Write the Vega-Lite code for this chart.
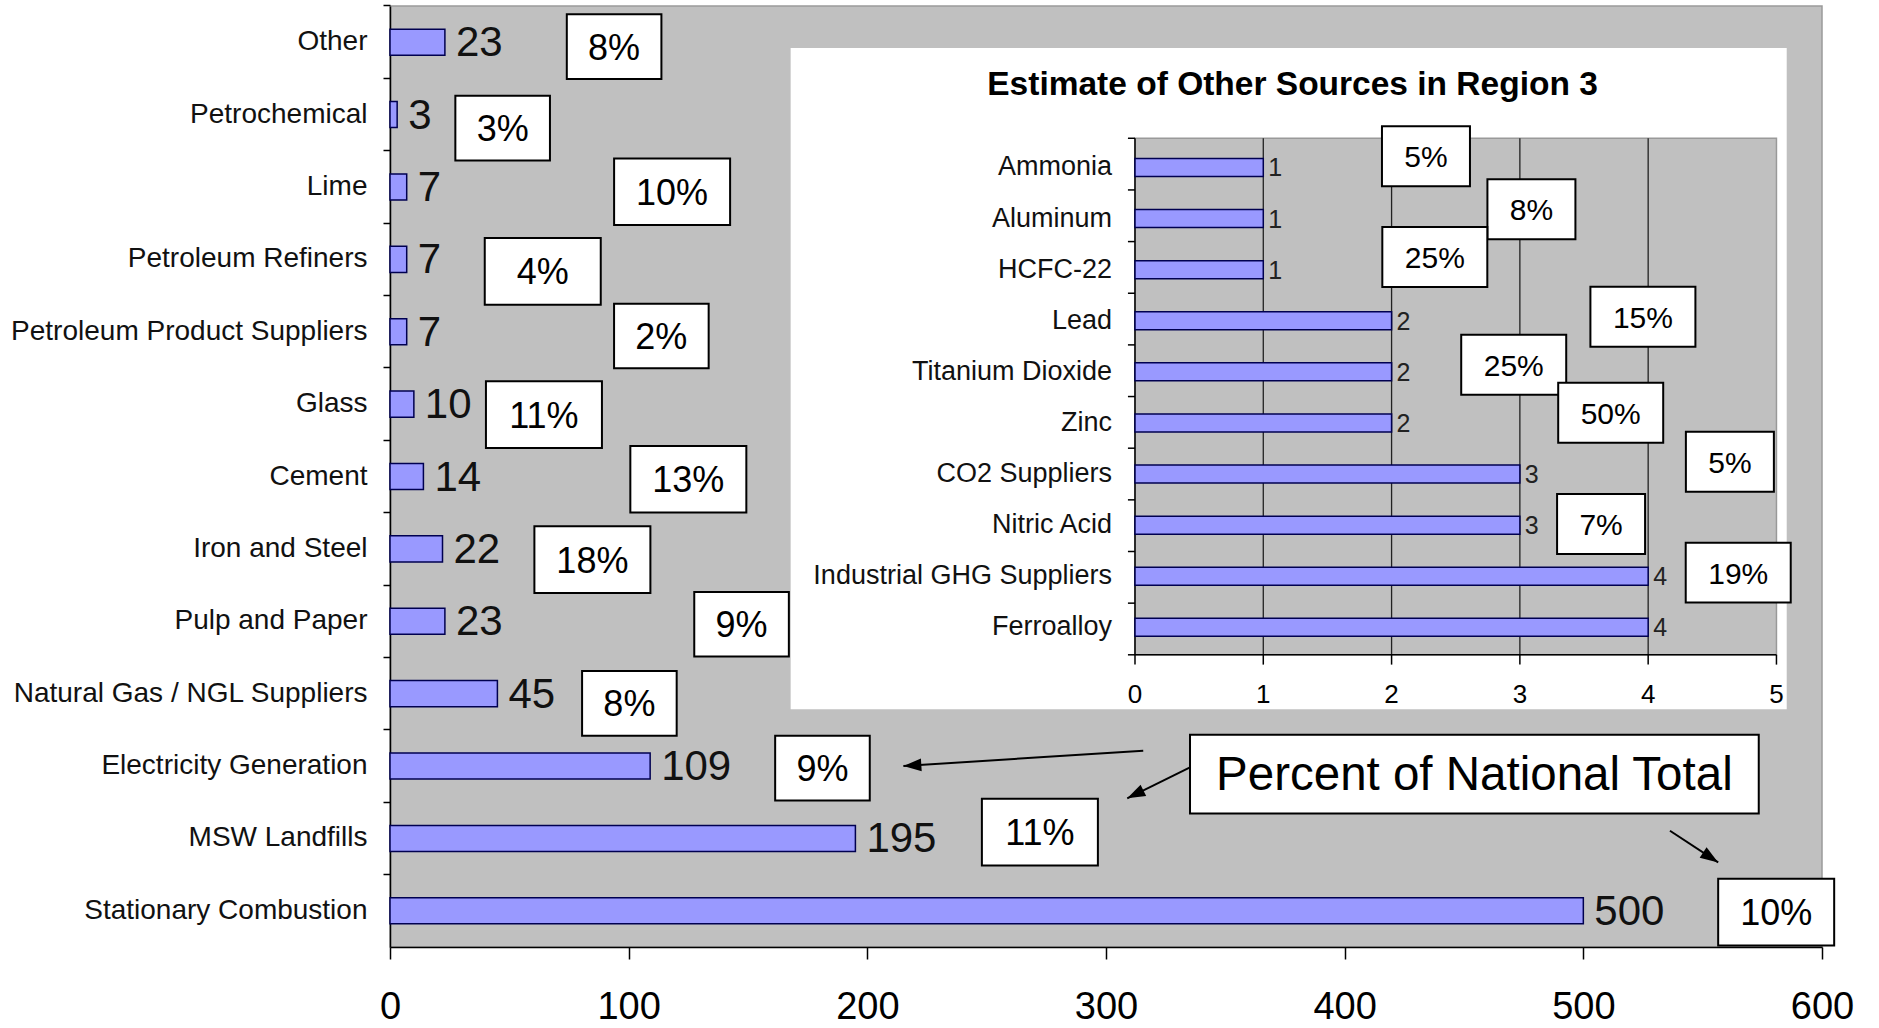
{
  "$schema": "https://vega.github.io/schema/vega-lite/v6.json",
  "width": 1432,
  "height": 941,
  "autosize": {"type": "none"},
  "padding": {"left": 390, "top": 6, "right": 57, "bottom": 81},
  "background": "#ffffff",
  "config": {
    "view": {"fill": "#c0c0c0", "stroke": "#9a9a9a", "strokeWidth": 1.5},
    "font": "Liberation Sans"
  },
  "datasets": {
    "main": [
      {"cat": "Other", "v": 23},
      {"cat": "Petrochemical", "v": 3},
      {"cat": "Lime", "v": 7},
      {"cat": "Petroleum Refiners", "v": 7},
      {"cat": "Petroleum Product Suppliers", "v": 7},
      {"cat": "Glass", "v": 10},
      {"cat": "Cement", "v": 14},
      {"cat": "Iron and Steel", "v": 22},
      {"cat": "Pulp and Paper", "v": 23},
      {"cat": "Natural Gas / NGL Suppliers", "v": 45},
      {"cat": "Electricity Generation", "v": 109},
      {"cat": "MSW Landfills", "v": 195},
      {"cat": "Stationary Combustion", "v": 500}
    ],
    "mainPct": [
      {"p": "8%", "x": 93.9, "y": 0.562},
      {"p": "3%", "x": 47.2, "y": 1.688},
      {"p": "10%", "x": 118.2, "y": 2.566},
      {"p": "4%", "x": 64.0, "y": 3.665},
      {"p": "2%", "x": 113.7, "y": 4.559},
      {"p": "11%", "x": 64.5, "y": 5.644},
      {"p": "13%", "x": 125.0, "y": 6.538},
      {"p": "18%", "x": 84.8, "y": 7.647},
      {"p": "9%", "x": 147.3, "y": 8.541},
      {"p": "8%", "x": 100.3, "y": 9.633},
      {"p": "9%", "x": 181.2, "y": 10.528},
      {"p": "11%", "x": 272.3, "y": 11.412},
      {"p": "10%", "x": 580.8, "y": 12.517}
    ],
    "arrows": [
      {"x": 315.6, "y": 10.289, "x2": 215.1, "y2": 10.5, "a": 176.35},
      {"x": 335.2, "y": 10.518, "x2": 308.9, "y2": 10.946, "a": 153.7},
      {"x": 536.3, "y": 11.394, "x2": 556.5, "y2": 11.831, "a": 33.2}
    ],
    "pnt": [{"label": "Percent of National Total"}],
    "insetTitle": [{"title": "Estimate of Other Sources in Region 3"}],
    "insetTicks": [{"t": 0}, {"t": 1}, {"t": 2}, {"t": 3}, {"t": 4}, {"t": 5}],
    "insetBounds": [{"b": 0}, {"b": 1}, {"b": 2}, {"b": 3}, {"b": 4}, {"b": 5}, {"b": 6}, {"b": 7}, {"b": 8}, {"b": 9}, {"b": 10}],
    "inset": [
      {"cat": "Ammonia", "v": 1},
      {"cat": "Aluminum", "v": 1},
      {"cat": "HCFC-22", "v": 1},
      {"cat": "Lead", "v": 2},
      {"cat": "Titanium Dioxide", "v": 2},
      {"cat": "Zinc", "v": 2},
      {"cat": "CO2 Suppliers", "v": 3},
      {"cat": "Nitric Acid", "v": 3},
      {"cat": "Industrial GHG Suppliers", "v": 4},
      {"cat": "Ferroalloy", "v": 4}
    ],
    "insetPct": [
      {"p": "5%", "x": 2.268, "y": 0.349},
      {"p": "8%", "x": 3.09, "y": 1.373},
      {"p": "25%", "x": 2.337, "y": 2.298},
      {"p": "15%", "x": 3.959, "y": 3.454},
      {"p": "25%", "x": 2.952, "y": 4.385},
      {"p": "50%", "x": 3.708, "y": 5.313},
      {"p": "5%", "x": 4.637, "y": 6.263},
      {"p": "7%", "x": 3.633, "y": 7.469},
      {"p": "19%", "x": 4.702, "y": 8.409}
    ]
  },
  "layer": [
    {
      "data": {"name": "main"},
      "encoding": {
        "y": {
          "field": "cat", "type": "nominal", "sort": null,
          "scale": {"paddingInner": 0.64, "paddingOuter": 0.32, "round": false},
          "axis": {
            "title": null, "labelFont": "Liberation Sans", "labelFontSize": 28, "labelColor": "#111",
            "labelPadding": 16, "tickSize": 7, "tickColor": "#000", "tickWidth": 1.5,
            "domainColor": "#000", "domainWidth": 1.5, "bandPosition": -0.889, "labelLimit": 500, "grid": false
          }
        },
        "x": {
          "field": "v", "type": "quantitative",
          "scale": {"domain": [0, 600], "nice": false, "zero": true},
          "axis": {
            "title": null, "values": [0, 100, 200, 300, 400, 500, 600],
            "labelFont": "Liberation Sans", "labelFontSize": 38, "labelColor": "#000",
            "labelPadding": 29, "tickSize": 12, "tickColor": "#000", "tickWidth": 1.5,
            "domainColor": "#000", "domainWidth": 1.5, "grid": false, "labelFlush": false
          }
        }
      },
      "layer": [
        {"mark": {"type": "bar", "fill": "#9999ff", "stroke": "#000050", "strokeWidth": 1.5}},
        {
          "mark": {"type": "text", "align": "left", "baseline": "middle", "dx": 11, "dy": 1, "font": "Liberation Sans", "fontSize": 42, "fill": "#111"},
          "encoding": {"text": {"field": "v", "type": "quantitative"}}
        }
      ]
    },
    {
      "layer": [
        {
          "data": {"name": "arrows"},
          "mark": {"type": "rule", "stroke": "#000", "strokeWidth": 2},
          "encoding": {
            "x": {"field": "x", "type": "quantitative", "scale": {"domain": [0, 600], "nice": false, "zero": false}, "axis": null},
            "y": {"field": "y", "type": "quantitative", "scale": {"domain": [0, 13], "nice": false, "zero": false, "reverse": true}, "axis": null},
            "x2": {"field": "x2"},
            "y2": {"field": "y2"}
          }
        },
        {
          "data": {"name": "arrows"},
          "mark": {"type": "point", "shape": "M0,0L-2,-0.7L-2,0.7Z", "size": 324, "filled": true, "fill": "#000", "strokeWidth": 0, "opacity": 1},
          "encoding": {
            "x": {"field": "x2", "type": "quantitative", "scale": {"domain": [0, 600], "nice": false, "zero": false}, "axis": null},
            "y": {"field": "y2", "type": "quantitative", "scale": {"domain": [0, 13], "nice": false, "zero": false, "reverse": true}, "axis": null},
            "angle": {"field": "a", "type": "quantitative", "scale": null}
          }
        },
        {
          "data": {"name": "mainPct"},
          "transform": [{"filter": "!(length(datum.p) == 3 || datum.p == '4%')"}],
          "mark": {"type": "point", "shape": "M-1,-0.684H1V0.684H-1Z", "size": 8949, "filled": true, "fill": "#fff", "stroke": "#000", "strokeWidth": 2, "opacity": 1},
          "encoding": {
            "x": {"field": "x", "type": "quantitative", "scale": {"domain": [0, 600], "nice": false, "zero": false}, "axis": null},
            "y": {"field": "y", "type": "quantitative", "scale": {"domain": [0, 13], "nice": false, "zero": false, "reverse": true}, "axis": null}
          }
        },
        {
          "data": {"name": "mainPct"},
          "transform": [{"filter": "length(datum.p) == 3 || datum.p == '4%'"}],
          "mark": {"type": "point", "shape": "M-1,-0.575H1V0.575H-1Z", "size": 13456, "filled": true, "fill": "#fff", "stroke": "#000", "strokeWidth": 2, "opacity": 1},
          "encoding": {
            "x": {"field": "x", "type": "quantitative", "scale": {"domain": [0, 600], "nice": false, "zero": false}, "axis": null},
            "y": {"field": "y", "type": "quantitative", "scale": {"domain": [0, 13], "nice": false, "zero": false, "reverse": true}, "axis": null}
          }
        },
        {
          "data": {"name": "mainPct"},
          "mark": {"type": "text", "align": "center", "baseline": "middle", "dy": 2, "font": "Liberation Sans", "fontSize": 36, "fill": "#000"},
          "encoding": {
            "x": {"field": "x", "type": "quantitative", "scale": {"domain": [0, 600], "nice": false, "zero": false}, "axis": null},
            "y": {"field": "y", "type": "quantitative", "scale": {"domain": [0, 13], "nice": false, "zero": false, "reverse": true}, "axis": null},
            "text": {"field": "p"}
          }
        },
        {
          "data": {"name": "pnt"},
          "mark": {"type": "rect", "fill": "#fff", "stroke": "#000", "strokeWidth": 2},
          "encoding": {
            "x": {"datum": 335.2, "type": "quantitative", "scale": {"domain": [0, 600], "nice": false, "zero": false}, "axis": null},
            "x2": {"datum": 573.5},
            "y": {"datum": 10.068, "type": "quantitative", "scale": {"domain": [0, 13], "nice": false, "zero": false, "reverse": true}, "axis": null},
            "y2": {"datum": 11.154}
          }
        },
        {
          "data": {"name": "pnt"},
          "mark": {"type": "text", "align": "center", "baseline": "middle", "dy": 2, "font": "Liberation Sans", "fontSize": 47.5, "fill": "#000"},
          "encoding": {
            "x": {"datum": 454.35, "type": "quantitative", "scale": {"domain": [0, 600], "nice": false, "zero": false}, "axis": null},
            "y": {"datum": 10.611, "type": "quantitative", "scale": {"domain": [0, 13], "nice": false, "zero": false, "reverse": true}, "axis": null},
            "text": {"field": "label"}
          }
        }
      ]
    },
    {
      "layer": [
        {
          "data": {"name": "insetTitle"},
          "mark": {"type": "rect", "fill": "#fff", "strokeWidth": 0},
          "encoding": {
            "x": {"datum": -2.684, "type": "quantitative", "scale": {"domain": [-5.807, 5.355], "nice": false, "zero": false}, "axis": null},
            "x2": {"datum": 5.08},
            "y": {"datum": -1.75, "type": "quantitative", "scale": {"domain": [-2.561, 15.657], "nice": false, "zero": false, "reverse": true}, "axis": null},
            "y2": {"datum": 11.053}
          }
        },
        {
          "data": {"name": "insetTitle"},
          "mark": {"type": "text", "align": "center", "baseline": "middle", "font": "Liberation Sans", "fontWeight": "bold", "fontSize": 33.5, "fill": "#000"},
          "encoding": {
            "x": {"datum": 1.228, "type": "quantitative", "scale": {"domain": [-5.807, 5.355], "nice": false, "zero": false}, "axis": null},
            "y": {"datum": -1.03, "type": "quantitative", "scale": {"domain": [-2.561, 15.657], "nice": false, "zero": false, "reverse": true}, "axis": null},
            "text": {"field": "title"}
          }
        },
        {
          "data": {"name": "insetTitle"},
          "mark": {"type": "rect", "fill": "#c0c0c0", "stroke": "#999", "strokeWidth": 1.5},
          "encoding": {
            "x": {"datum": 0, "type": "quantitative", "scale": {"domain": [-5.807, 5.355], "nice": false, "zero": false}, "axis": null},
            "x2": {"datum": 5},
            "y": {"datum": 0, "type": "quantitative", "scale": {"domain": [-2.561, 15.657], "nice": false, "zero": false, "reverse": true}, "axis": null},
            "y2": {"datum": 10}
          }
        },
        {
          "data": {"name": "insetTicks"},
          "transform": [{"filter": "datum.t > 0 && datum.t < 5"}],
          "mark": {"type": "rule", "stroke": "#222", "strokeWidth": 1.3},
          "encoding": {
            "x": {"field": "t", "type": "quantitative", "scale": {"domain": [-5.807, 5.355], "nice": false, "zero": false}, "axis": null},
            "y": {"datum": 0, "type": "quantitative", "scale": {"domain": [-2.561, 15.657], "nice": false, "zero": false, "reverse": true}, "axis": null},
            "y2": {"datum": 10}
          }
        },
        {
          "data": {"name": "insetTicks"},
          "mark": {"type": "rule", "stroke": "#000", "strokeWidth": 1.5},
          "encoding": {
            "x": {"field": "t", "type": "quantitative", "scale": {"domain": [-5.807, 5.355], "nice": false, "zero": false}, "axis": null},
            "y": {"datum": 10, "type": "quantitative", "scale": {"domain": [-2.561, 15.657], "nice": false, "zero": false, "reverse": true}, "axis": null},
            "y2": {"datum": 10.19}
          }
        },
        {
          "data": {"name": "insetBounds"},
          "mark": {"type": "rule", "stroke": "#000", "strokeWidth": 1.5},
          "encoding": {
            "x": {"datum": -0.055, "type": "quantitative", "scale": {"domain": [-5.807, 5.355], "nice": false, "zero": false}, "axis": null},
            "x2": {"datum": 0},
            "y": {"field": "b", "type": "quantitative", "scale": {"domain": [-2.561, 15.657], "nice": false, "zero": false, "reverse": true}, "axis": null}
          }
        },
        {
          "data": {"name": "insetTitle"},
          "mark": {"type": "rule", "stroke": "#000", "strokeWidth": 1.5},
          "encoding": {
            "x": {"datum": 0, "type": "quantitative", "scale": {"domain": [-5.807, 5.355], "nice": false, "zero": false}, "axis": null},
            "y": {"datum": 0, "type": "quantitative", "scale": {"domain": [-2.561, 15.657], "nice": false, "zero": false, "reverse": true}, "axis": null},
            "y2": {"datum": 10}
          }
        },
        {
          "data": {"name": "insetTitle"},
          "mark": {"type": "rule", "stroke": "#000", "strokeWidth": 1.5},
          "encoding": {
            "x": {"datum": 0, "type": "quantitative", "scale": {"domain": [-5.807, 5.355], "nice": false, "zero": false}, "axis": null},
            "x2": {"datum": 5},
            "y": {"datum": 10, "type": "quantitative", "scale": {"domain": [-2.561, 15.657], "nice": false, "zero": false, "reverse": true}, "axis": null}
          }
        },
        {
          "data": {"name": "insetTicks"},
          "mark": {"type": "text", "align": "center", "baseline": "middle", "font": "Liberation Sans", "fontSize": 26, "fill": "#000"},
          "encoding": {
            "x": {"field": "t", "type": "quantitative", "scale": {"domain": [-5.807, 5.355], "nice": false, "zero": false}, "axis": null},
            "y": {"datum": 10.78, "type": "quantitative", "scale": {"domain": [-2.561, 15.657], "nice": false, "zero": false, "reverse": true}, "axis": null},
            "text": {"field": "t", "type": "quantitative"}
          }
        },
        {
          "data": {"name": "insetPct"},
          "transform": [{"filter": "length(datum.p) < 3"}],
          "mark": {"type": "point", "shape": "M-1,-0.682H1V0.682H-1Z", "size": 7744, "filled": true, "fill": "#fff", "stroke": "#000", "strokeWidth": 2, "opacity": 1},
          "encoding": {
            "x": {"field": "x", "type": "quantitative", "scale": {"domain": [-5.807, 5.355], "nice": false, "zero": false}, "axis": null},
            "y": {"field": "y", "type": "quantitative", "scale": {"domain": [-2.561, 15.657], "nice": false, "zero": false, "reverse": true}, "axis": null}
          }
        },
        {
          "data": {"name": "insetPct"},
          "transform": [{"filter": "length(datum.p) >= 3"}],
          "mark": {"type": "point", "shape": "M-1,-0.571H1V0.571H-1Z", "size": 11025, "filled": true, "fill": "#fff", "stroke": "#000", "strokeWidth": 2, "opacity": 1},
          "encoding": {
            "x": {"field": "x", "type": "quantitative", "scale": {"domain": [-5.807, 5.355], "nice": false, "zero": false}, "axis": null},
            "y": {"field": "y", "type": "quantitative", "scale": {"domain": [-2.561, 15.657], "nice": false, "zero": false, "reverse": true}, "axis": null}
          }
        },
        {
          "data": {"name": "insetPct"},
          "mark": {"type": "text", "align": "center", "baseline": "middle", "dy": 2, "font": "Liberation Sans", "fontSize": 30, "fill": "#000"},
          "encoding": {
            "x": {"field": "x", "type": "quantitative", "scale": {"domain": [-5.807, 5.355], "nice": false, "zero": false}, "axis": null},
            "y": {"field": "y", "type": "quantitative", "scale": {"domain": [-2.561, 15.657], "nice": false, "zero": false, "reverse": true}, "axis": null},
            "text": {"field": "p"}
          }
        }
      ]
    },
    {
      "data": {"name": "inset"},
      "transform": [{"window": [{"op": "row_number", "as": "r"}]}],
      "encoding": {
        "y": {
          "field": "r", "type": "quantitative",
          "scale": {"domain": [-2.061, 16.157], "nice": false, "zero": false, "reverse": true},
          "axis": null
        }
      },
      "layer": [
        {
          "mark": {"type": "bar", "orient": "horizontal", "size": 18, "fill": "#9999ff", "stroke": "#000050", "strokeWidth": 1.5},
          "encoding": {
            "x": {"field": "v", "type": "quantitative", "scale": {"domain": [-5.807, 5.355], "nice": false, "zero": false}, "axis": null}
          }
        },
        {
          "mark": {"type": "text", "align": "left", "baseline": "middle", "dx": 5, "dy": 1, "font": "Liberation Sans", "fontSize": 25, "fill": "#222"},
          "encoding": {
            "x": {"field": "v", "type": "quantitative", "scale": {"domain": [-5.807, 5.355], "nice": false, "zero": false}, "axis": null},
            "text": {"field": "v", "type": "quantitative"}
          }
        },
        {
          "mark": {"type": "text", "align": "right", "baseline": "middle", "dx": -23, "font": "Liberation Sans", "fontSize": 27, "fill": "#111"},
          "encoding": {
            "x": {"datum": 0, "type": "quantitative", "scale": {"domain": [-5.807, 5.355], "nice": false, "zero": false}, "axis": null},
            "text": {"field": "cat"}
          }
        }
      ]
    }
  ],
  "resolve": {"scale": {"x": "independent", "y": "independent"}}
}
